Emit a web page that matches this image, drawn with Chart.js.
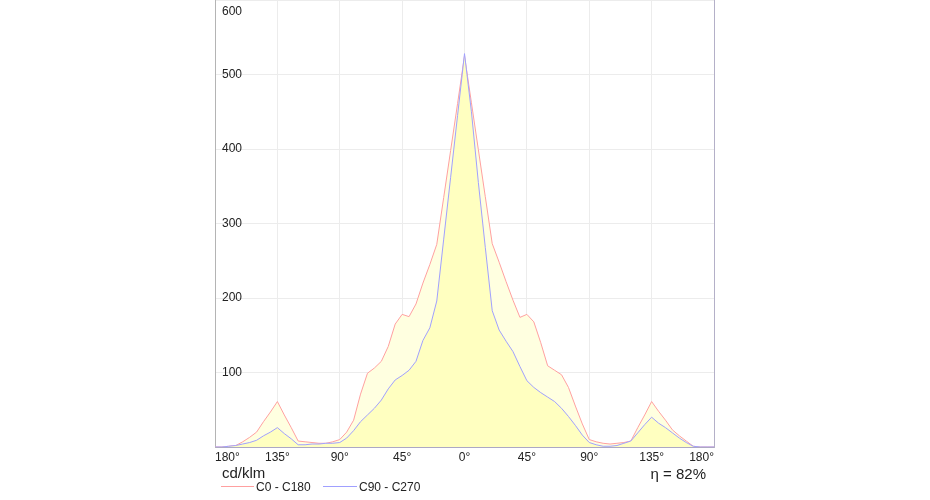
<!DOCTYPE html>
<html>
<head>
<meta charset="utf-8">
<script src="https://cdn.jsdelivr.net/npm/chart.js@4/dist/chart.umd.min.js"></script>
<style>
  body { margin: 0; background: #fff; }
  #wrap { position: relative; width: 930px; height: 500px; font-family: "Liberation Sans", Arial, sans-serif; color: #222; }
  #wrap canvas { position: absolute; left: 0; top: 0; }
  .txt { position: absolute; white-space: nowrap; line-height: 1; }
  .key { position: absolute; height: 1px; }
</style>
</head>
<body>
<div id="wrap">
  <canvas id="lightChart" width="930" height="500"></canvas>
  <div class="txt" style="left:222px; top:465px; font-size:15px;">cd/klm</div>
  <div class="key" style="left:221px; top:486px; width:33px; background:rgb(255,160,160);"></div>
  <div class="txt" style="left:256px; top:481px; font-size:12px;">C0 - C180</div>
  <div class="key" style="left:323px; top:486px; width:34px; background:rgb(160,160,255);"></div>
  <div class="txt" style="left:359px; top:481px; font-size:12px;">C90 - C270</div>
  <div class="txt" style="right:224px; top:466px; font-size:15px;">η = 82%</div>
</div>
<script>
// angles (deg), left half = C180 / C270 side, right half = C0 / C90 side
const angles = [-180, -175, -170, -165, -160, -155, -150, -145, -140, -135, -130, -125,
  -120, -115, -110, -105, -100, -95, -90, -85, -80, -75, -70, -65,
  -60, -55, -50, -45, -40, -35, -30, -25, -20, -15, -10, -5,
  0, 5, 10, 15, 20, 25, 30, 35, 40, 45, 50, 55,
  60, 65, 70, 75, 80, 85, 90, 95, 100, 105, 110, 115,
  120, 125, 130, 135, 140, 145, 150, 155, 160, 165, 170, 175, 180];

const c0c180 = [0, 0, 1, 2, 7, 13, 20, 34, 47, 61, 43, 26,
  8, 7, 6, 5, 5, 7, 10, 20, 36, 71, 99, 106,
  115, 135, 165, 178, 175, 192, 220, 245, 272, 335, 398, 461,
  525, 462, 399, 336, 273, 248, 222, 197, 174, 178, 168, 140,
  109, 103, 97, 80, 55, 31, 10, 7, 5, 4, 5, 6,
  8, 26, 43, 61, 48, 36, 23, 15, 8, 1, 0, 0, 0];

const c90c270 = [0, 0, 1, 2, 4, 6, 9, 15, 20, 26, 18, 11,
  3, 3, 4, 4, 5, 5, 6, 12, 22, 34, 43, 52,
  63, 78, 90, 96, 103, 115, 143, 160, 196, 279, 362, 445,
  528, 450, 355, 268, 183, 157, 142, 128, 108, 89, 80, 73,
  67, 61, 52, 41, 29, 16, 6, 3, 1, 1, 2, 5,
  8, 19, 30, 40, 32, 26, 19, 12, 6, 1, 0, 0, 0];

const yTicks = [100, 200, 300, 400, 500];
const topLabel = '600';

function toPoints(values) {
  return angles.map((a, i) => ({ x: a, y: values[i] }));
}

// draws the clamped top tick label, like the original
const topLabelPlugin = {
  id: 'topLabel',
  afterDraw(chart) {
    const ctx = chart.ctx;
    ctx.save();
    ctx.font = '12px "Liberation Sans", Arial, sans-serif';
    ctx.fillStyle = '#222';
    ctx.textAlign = 'left';
    ctx.textBaseline = 'middle';
    ctx.fillText(topLabel, chart.chartArea.left + 7, 12);
    ctx.restore();
  }
};

const chart = new Chart(document.getElementById('lightChart'), {
  type: 'line',
  data: {
    datasets: [{
      label: 'C0 - C180',
      data: toPoints(c0c180),
      borderColor: 'rgb(255,160,160)',
      backgroundColor: 'rgb(255,255,224)',
      borderWidth: 1,
      fill: 'origin',
      order: 2
    }, {
      label: 'C90 - C270',
      data: toPoints(c90c270),
      borderColor: 'rgb(160,160,255)',
      backgroundColor: 'rgb(255,255,192)',
      borderWidth: 1,
      fill: 'origin',
      order: 1
    }]
  },
  options: {
    responsive: false,
    devicePixelRatio: 1,
    animation: false,
    elements: { point: { radius: 0 }, line: { tension: 0 } },
    layout: { padding: { left: 215, right: 216, top: -2, bottom: 33 } },
    plugins: { legend: { display: false }, tooltip: { enabled: false } },
    scales: {
      x: {
        type: 'linear',
        min: -180,
        max: 180,
        grid: { color: '#ececec', drawTicks: false },
        border: { color: '#aca8c4' },
        ticks: {
          stepSize: 45,
          align: 'inner',
          padding: 3,
          maxRotation: 0,
          autoSkip: false,
          color: '#222',
          font: { family: '"Liberation Sans", Arial, sans-serif', size: 12 },
          callback: (v) => Math.abs(v) + '°'
        },
        afterFit: (scale) => { scale.height = 20; }
      },
      y: {
        min: 0,
        max: 600,
        grid: { color: '#ececec', drawTicks: false },
        border: { color: '#b4b4b4' },
        ticks: {
          stepSize: 100,
          mirror: true,
          padding: 7,
          color: '#222',
          font: { family: '"Liberation Sans", Arial, sans-serif', size: 12 },
          callback: (v) => yTicks.includes(v) ? String(v) : ''
        },
        afterFit: (scale) => { scale.width = 0; scale.paddingTop = 0; scale.paddingBottom = 0; }
      },
      yRight: {
        position: 'right',
        min: 0,
        max: 600,
        grid: { display: false, drawTicks: false },
        border: { color: '#b4b0c8' },
        ticks: { display: false },
        afterFit: (scale) => { scale.width = 0; scale.paddingTop = 0; scale.paddingBottom = 0; }
      }
    }
  },
  plugins: [topLabelPlugin]
});
</script>
</body>
</html>
